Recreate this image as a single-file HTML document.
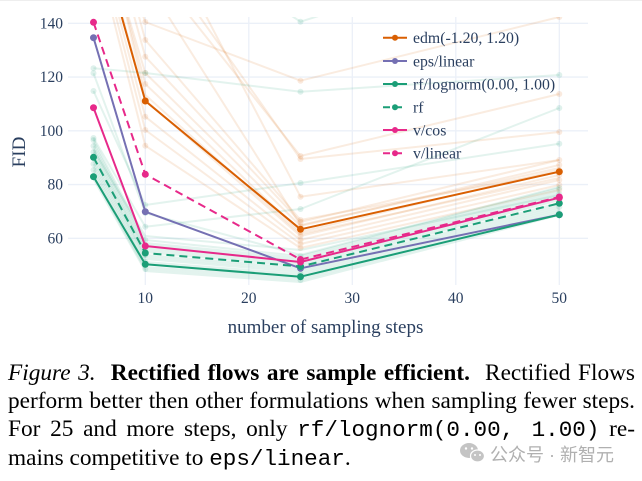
<!DOCTYPE html>
<html>
<head>
<meta charset="utf-8">
<style>
  html, body { margin:0; padding:0; background:#fff; }
  body { width:642px; height:481px; position:relative; overflow:hidden; }
  svg { position:absolute; left:0; top:0; }
  .cap { position:absolute; left:8px; width:627px; font-family:"Liberation Serif", serif; font-size:23.3px; line-height:22px; color:#000; white-space:nowrap; }
  .just { text-align:justify; text-align-last:justify; white-space:normal; }
  .mono { font-family:"Liberation Mono", monospace; font-size:22.6px; }
</style>
</head>
<body>
<svg width="642" height="481" viewBox="0 0 642 481" xmlns="http://www.w3.org/2000/svg">
  <defs>
    <clipPath id="pa"><rect x="68" y="17" width="520" height="268"/></clipPath>
  </defs>
  <line x1="0" y1="0.5" x2="642" y2="0.5" stroke="#eeeeee" stroke-width="1"/>
  <!-- grid -->
  <g stroke="#ebf0f8" stroke-width="1.3">
    <line x1="68" y1="23.3" x2="588" y2="23.3"/>
    <line x1="68" y1="77.05" x2="588" y2="77.05"/>
    <line x1="68" y1="130.8" x2="588" y2="130.8"/>
    <line x1="68" y1="184.55" x2="588" y2="184.55"/>
    <line x1="68" y1="238.3" x2="588" y2="238.3"/>
    <line x1="145.3" y1="17" x2="145.3" y2="285"/>
    <line x1="248.8" y1="17" x2="248.8" y2="285"/>
    <line x1="352.3" y1="17" x2="352.3" y2="285"/>
    <line x1="455.8" y1="17" x2="455.8" y2="285"/>
    <line x1="559.3" y1="17" x2="559.3" y2="285"/>
  </g>
  <g clip-path="url(#pa)" fill="none" stroke-linejoin="round">
    <!-- faint orange -->
    <g stroke="rgba(217,95,2,0.12)" stroke-width="2">
      <polyline points="93.5,-120 145.3,22 300.5,80.7 559.3,17"/>
      <polyline points="93.5,-200 145.3,-40 300.5,156 559.3,94"/>
      <polyline points="93.5,-200 145.3,-60 300.5,159 559.3,132"/>
      <polyline points="93.5,-130 145.3,56.7 300.5,222 559.3,160"/>
      <polyline points="93.5,-100 145.3,73 300.5,226 559.3,165"/>
      <polyline points="93.5,-110 145.3,84 300.5,232 559.3,170"/>
      <polyline points="93.5,-90 145.3,100 300.5,236 559.3,175"/>
      <polyline points="93.5,-80 145.3,116.7 300.5,240 559.3,180"/>
      <polyline points="93.5,-70 145.3,130 300.5,244 559.3,185"/>
      <polyline points="93.5,-60 145.3,145.7 300.5,248 559.3,190"/>
      <polyline points="93.5,-250 145.3,-100 300.5,196.7 559.3,160"/>
      <polyline points="93.5,-150 145.3,40 300.5,220 559.3,172"/>
      <polyline points="93.5,-180 145.3,-20 300.5,225 559.3,168"/>
      <polyline points="93.5,-120 145.3,95 300.5,234 559.3,178"/>
    </g>
    <g fill="rgba(217,95,2,0.13)" stroke="none">
      <circle cx="145.3" cy="22" r="3"/><circle cx="300.5" cy="80.7" r="3"/><circle cx="559.3" cy="17" r="3"/>
      <circle cx="300.5" cy="156" r="3"/><circle cx="559.3" cy="94" r="3"/>
      <circle cx="300.5" cy="159" r="3"/><circle cx="559.3" cy="132" r="3"/>
      <circle cx="145.3" cy="56.7" r="3"/><circle cx="300.5" cy="222" r="3"/><circle cx="559.3" cy="160" r="3"/>
      <circle cx="145.3" cy="73" r="3"/><circle cx="300.5" cy="226" r="3"/><circle cx="559.3" cy="165" r="3"/>
      <circle cx="145.3" cy="84" r="3"/><circle cx="300.5" cy="232" r="3"/><circle cx="559.3" cy="170" r="3"/>
      <circle cx="145.3" cy="100" r="3"/><circle cx="300.5" cy="236" r="3"/><circle cx="559.3" cy="175" r="3"/>
      <circle cx="145.3" cy="116.7" r="3"/><circle cx="300.5" cy="240" r="3"/><circle cx="559.3" cy="180" r="3"/>
      <circle cx="145.3" cy="130" r="3"/><circle cx="300.5" cy="244" r="3"/><circle cx="559.3" cy="185" r="3"/>
      <circle cx="145.3" cy="145.7" r="3"/><circle cx="300.5" cy="248" r="3"/><circle cx="559.3" cy="190" r="3"/>
      <circle cx="300.5" cy="196.7" r="3"/>
      <circle cx="145.3" cy="40" r="3"/><circle cx="300.5" cy="220" r="3"/>
    </g>
    <!-- faint green -->
    <g stroke="rgba(27,158,119,0.12)" stroke-width="2">
      <polyline points="93.5,68.3 145.3,73 300.5,91.7 559.3,75"/>
      <polyline points="93.5,-60 145.3,-80 300.5,21.7 559.3,-60"/>
      <polyline points="93.5,91 145.3,205 300.5,183 559.3,143.7"/>
      <polyline points="93.5,138 145.3,226.7 300.5,209 559.3,108"/>
      <polyline points="93.5,73.3 145.3,213 300.5,255 559.3,187"/>
      <polyline points="93.5,140 145.3,240 300.5,256 559.3,188"/>
      <polyline points="93.5,143 145.3,243 300.5,258 559.3,190"/>
      <polyline points="93.5,146 145.3,245 300.5,260 559.3,192"/>
      <polyline points="93.5,149 145.3,248 300.5,262 559.3,194"/>
      <polyline points="93.5,152 145.3,250 300.5,264 559.3,196"/>
      <polyline points="93.5,155 145.3,252 300.5,266 559.3,198"/>
      <polyline points="93.5,158 145.3,255 300.5,268 559.3,200"/>
      <polyline points="93.5,161 145.3,257 300.5,270 559.3,203"/>
      <polyline points="93.5,164 145.3,259 300.5,272 559.3,205"/>
      <polyline points="93.5,167 145.3,262 300.5,274 559.3,207"/>
      <polyline points="93.5,170 145.3,264 300.5,276 559.3,209"/>
      <polyline points="93.5,173 145.3,267 300.5,278 559.3,211"/>
      <polyline points="93.5,176 145.3,269 300.5,280 559.3,213"/>
      <polyline points="93.5,179 145.3,271 300.5,282 559.3,215"/>
      <polyline points="93.5,150 145.3,236 300.5,250 559.3,195"/>
    </g>
    <g fill="rgba(27,158,119,0.14)" stroke="none">
      <circle cx="93.5" cy="68.3" r="3"/><circle cx="145.3" cy="73" r="3"/><circle cx="300.5" cy="91.7" r="3"/><circle cx="559.3" cy="75" r="3"/>
      <circle cx="300.5" cy="21.7" r="3"/>
      <circle cx="93.5" cy="91" r="3"/><circle cx="145.3" cy="205" r="3"/><circle cx="300.5" cy="183" r="3"/><circle cx="559.3" cy="143.7" r="3"/>
      <circle cx="93.5" cy="138" r="3"/><circle cx="145.3" cy="226.7" r="3"/><circle cx="300.5" cy="209" r="3"/><circle cx="559.3" cy="108" r="3"/>
      <circle cx="93.5" cy="73.3" r="3"/><circle cx="145.3" cy="213" r="3"/>
      <circle cx="93.5" cy="140" r="3"/><circle cx="93.5" cy="146" r="3"/><circle cx="93.5" cy="152" r="3"/><circle cx="93.5" cy="158" r="3"/><circle cx="93.5" cy="164" r="3"/><circle cx="93.5" cy="170" r="3"/><circle cx="93.5" cy="176" r="3"/>
      <circle cx="145.3" cy="240" r="3"/><circle cx="145.3" cy="248" r="3"/><circle cx="145.3" cy="255" r="3"/><circle cx="145.3" cy="262" r="3"/><circle cx="145.3" cy="269" r="3"/>
      <circle cx="300.5" cy="256" r="3"/><circle cx="300.5" cy="262" r="3"/><circle cx="300.5" cy="268" r="3"/><circle cx="300.5" cy="274" r="3"/><circle cx="300.5" cy="280" r="3"/>
      <circle cx="559.3" cy="188" r="3"/><circle cx="559.3" cy="194" r="3"/><circle cx="559.3" cy="200" r="3"/><circle cx="559.3" cy="207" r="3"/><circle cx="559.3" cy="213" r="3"/>
    </g>
    <!-- main series -->
    <polyline points="93.5,-84 145.3,101 300.5,229.3 559.3,171.7" stroke="#d95f02" stroke-width="2"/>
    <g fill="#d95f02"><circle cx="145.3" cy="101" r="3.5"/><circle cx="300.5" cy="229.3" r="3.5"/><circle cx="559.3" cy="171.7" r="3.5"/></g>

    <polyline points="93.5,37.7 145.3,211.7 300.5,268.3 559.3,214.7" stroke="#7570b3" stroke-width="2"/>
    <g fill="#7570b3"><circle cx="93.5" cy="37.7" r="3.5"/><circle cx="145.3" cy="211.7" r="3.5"/><circle cx="300.5" cy="268.3" r="3.5"/><circle cx="559.3" cy="214.7" r="3.5"/></g>

    <polyline points="93.5,176.7 145.3,264.3 300.5,276.7 559.3,214.7" stroke="#1b9e77" stroke-width="2"/>
    <g fill="#1b9e77"><circle cx="93.5" cy="176.7" r="3.5"/><circle cx="145.3" cy="264.3" r="3.5"/><circle cx="300.5" cy="276.7" r="3.5"/><circle cx="559.3" cy="214.7" r="3.5"/></g>

    <polyline points="93.5,157.3 145.3,253 300.5,266.5 559.3,203.3" stroke="#1b9e77" stroke-width="2" stroke-dasharray="8,5"/>
    <g fill="#1b9e77"><circle cx="93.5" cy="157.3" r="3.5"/><circle cx="145.3" cy="253" r="3.5"/><circle cx="300.5" cy="266.5" r="3.5"/><circle cx="559.3" cy="203.3" r="3.5"/></g>

    <polyline points="93.5,107.7 145.3,246 300.5,262 559.3,197.7" stroke="#e7298a" stroke-width="2"/>
    <g fill="#e7298a"><circle cx="93.5" cy="107.7" r="3.5"/><circle cx="145.3" cy="246" r="3.5"/><circle cx="300.5" cy="262" r="3.5"/><circle cx="559.3" cy="197.7" r="3.5"/></g>

    <polyline points="93.5,22.3 145.3,174.3 300.5,259.5 559.3,197" stroke="#e7298a" stroke-width="2" stroke-dasharray="8,5"/>
    <g fill="#e7298a"><circle cx="93.5" cy="22.3" r="3.5"/><circle cx="145.3" cy="174.3" r="3.5"/><circle cx="300.5" cy="259.5" r="3.5"/><circle cx="559.3" cy="197" r="3.5"/></g>
  </g>

  <!-- tick labels -->
  <g font-family="Liberation Serif, serif" font-size="15.5" fill="#2a3f5f">
    <g text-anchor="end">
      <text x="63" y="28.5">140</text>
      <text x="63" y="82.2">120</text>
      <text x="63" y="136">100</text>
      <text x="63" y="189.7">80</text>
      <text x="63" y="243.5">60</text>
    </g>
    <g text-anchor="middle">
      <text x="145.3" y="303">10</text>
      <text x="248.8" y="303">20</text>
      <text x="352.3" y="303">30</text>
      <text x="455.8" y="303">40</text>
      <text x="559.3" y="303">50</text>
    </g>
  </g>
  <text x="325.5" y="333" font-family="Liberation Serif, serif" font-size="19" fill="#2a3f5f" text-anchor="middle">number of sampling steps</text>
  <text transform="translate(25,152) rotate(-90)" font-family="Liberation Serif, serif" font-size="19" fill="#2a3f5f" text-anchor="middle">FID</text>

  <!-- legend -->
  <g font-family="Liberation Serif, serif" font-size="15.8" fill="#2a3f5f">
    <line x1="383" y1="37.7" x2="407" y2="37.7" stroke="#d95f02" stroke-width="2"/><circle cx="395" cy="37.7" r="3" fill="#d95f02"/>
    <text x="413" y="43">edm(-1.20, 1.20)</text>
    <line x1="383" y1="61" x2="407" y2="61" stroke="#7570b3" stroke-width="2"/><circle cx="395" cy="61" r="3" fill="#7570b3"/>
    <text x="413" y="66.3">eps/linear</text>
    <line x1="383" y1="84" x2="407" y2="84" stroke="#1b9e77" stroke-width="2"/><circle cx="395" cy="84" r="3" fill="#1b9e77"/>
    <text x="413" y="89.3">rf/lognorm(0.00, 1.00)</text>
    <line x1="383" y1="107.3" x2="407" y2="107.3" stroke="#1b9e77" stroke-width="2" stroke-dasharray="7,5"/><circle cx="395" cy="107.3" r="3" fill="#1b9e77"/>
    <text x="413" y="112.6">rf</text>
    <line x1="383" y1="130" x2="407" y2="130" stroke="#e7298a" stroke-width="2"/><circle cx="395" cy="130" r="3" fill="#e7298a"/>
    <text x="413" y="135.3">v/cos</text>
    <line x1="383" y1="153.3" x2="407" y2="153.3" stroke="#e7298a" stroke-width="2" stroke-dasharray="7,5"/><circle cx="395" cy="153.3" r="3" fill="#e7298a"/>
    <text x="413" y="158.6">v/linear</text>
  </g>

  <!-- watermark -->
  <g>
    <ellipse cx="469" cy="450.5" rx="9" ry="7.5" fill="#c4c4c4"/>
    <ellipse cx="477.5" cy="456" rx="7" ry="6" fill="#c4c4c4" stroke="#fff" stroke-width="1.2"/>
    <circle cx="466" cy="448.5" r="1.2" fill="#fff"/><circle cx="472" cy="448.5" r="1.2" fill="#fff"/>
    <circle cx="475" cy="455" r="1" fill="#fff"/><circle cx="480" cy="455" r="1" fill="#fff"/>
    <text x="490" y="461" font-family="Liberation Sans, 'Noto Sans CJK SC', sans-serif" font-size="18" fill="#b0b0b0">公众号 · 新智元</text>
  </g>
</svg>

<div class="cap just" style="top:361.8px;"><i>Figure 3.</i>&nbsp; <b>Rectified flows are sample efficient.</b>&nbsp; Rectified Flows</div>
<div class="cap just" style="top:390.1px;">perform better then other formulations when sampling fewer steps.</div>
<div class="cap just" style="top:418.4px;">For 25 and more steps, only <span class="mono">rf/lognorm(0.00, 1.00)</span> re-</div>
<div class="cap" style="top:446.6px;">mains competitive to <span class="mono">eps/linear</span>.</div>
</body>
</html>
